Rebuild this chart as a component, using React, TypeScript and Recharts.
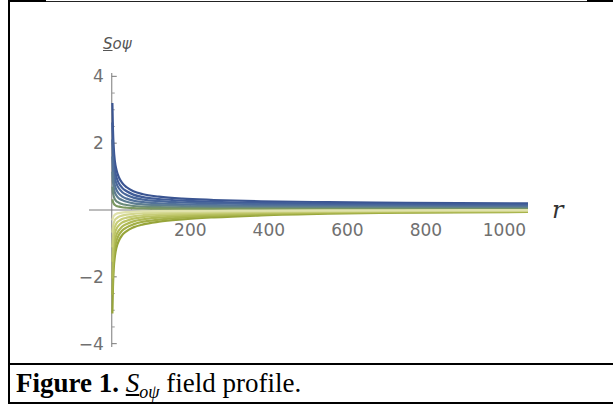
import React from 'react';
import { LineChart, Line, XAxis, YAxis, ReferenceLine, ReferenceDot } from 'recharts';

// radial coordinate r of the sampled points
const radius = [1.5, 3, 5, 8, 12, 18, 26, 38, 55, 80, 120, 180, 260, 380, 550, 750, 1060];

// positive branch, outermost curve first
const positiveCurves = [
  [3.2, 2.4, 1.85, 1.45, 1.2, 0.98, 0.82, 0.68, 0.56, 0.47, 0.4, 0.34, 0.3, 0.26, 0.235, 0.215, 0.2],
  [2.62, 1.97, 1.52, 1.19, 0.98, 0.8, 0.67, 0.56, 0.46, 0.385, 0.33, 0.28, 0.245, 0.215, 0.19, 0.175, 0.165],
  [2.11, 1.58, 1.22, 0.96, 0.79, 0.65, 0.54, 0.45, 0.37, 0.31, 0.265, 0.225, 0.2, 0.17, 0.155, 0.14, 0.13],
  [1.6, 1.2, 0.93, 0.73, 0.6, 0.49, 0.41, 0.34, 0.28, 0.235, 0.2, 0.17, 0.15, 0.13, 0.12, 0.11, 0.1],
  [1.15, 0.86, 0.67, 0.52, 0.43, 0.35, 0.3, 0.245, 0.2, 0.17, 0.145, 0.12, 0.11, 0.095, 0.085, 0.078, 0.072],
  [0.7, 0.53, 0.41, 0.32, 0.26, 0.22, 0.18, 0.15, 0.12, 0.1, 0.088, 0.075, 0.066, 0.057, 0.052, 0.047, 0.044],
  [0.32, 0.24, 0.19, 0.15, 0.12, 0.1, 0.082, 0.068, 0.056, 0.047, 0.04, 0.034, 0.03, 0.026, 0.024, 0.022, 0.02],
];

// negative branch, outermost curve first
const negativeCurves = [
  [-3.1, -2.3, -1.75, -1.38, -1.12, -0.92, -0.76, -0.63, -0.52, -0.43, -0.35, -0.28, -0.22, -0.16, -0.11, -0.08, -0.06],
  [-2.54, -1.89, -1.44, -1.13, -0.92, -0.75, -0.62, -0.52, -0.43, -0.35, -0.29, -0.23, -0.18, -0.13, -0.09, -0.066, -0.05],
  [-2.05, -1.52, -1.16, -0.91, -0.74, -0.61, -0.5, -0.42, -0.34, -0.28, -0.23, -0.185, -0.145, -0.105, -0.073, -0.053, -0.04],
  [-1.55, -1.15, -0.88, -0.69, -0.56, -0.46, -0.38, -0.32, -0.26, -0.215, -0.175, -0.14, -0.11, -0.08, -0.055, -0.04, -0.03],
  [-1.12, -0.83, -0.63, -0.5, -0.4, -0.33, -0.27, -0.23, -0.19, -0.155, -0.126, -0.1, -0.08, -0.058, -0.04, -0.029, -0.022],
  [-0.68, -0.51, -0.39, -0.3, -0.25, -0.2, -0.17, -0.14, -0.115, -0.095, -0.077, -0.062, -0.048, -0.035, -0.024, -0.018, -0.013],
  [-0.31, -0.23, -0.18, -0.14, -0.11, -0.092, -0.076, -0.063, -0.052, -0.043, -0.035, -0.028, -0.022, -0.016, -0.011, -0.008, -0.006],
];

const xMajorTicks = [200, 400, 600, 800, 1000];
const xMinorTicks = [50, 100, 150, 250, 300, 350, 450, 500, 550, 650, 700, 750, 850, 900, 950, 1050];
const yMajorTicks = [-4, -2, 2, 4];
const yMinorTicks = [-3.5, -3, -2.5, -1.5, -1, -0.5, 0.5, 1, 1.5, 2.5, 3, 3.5];
const xTickLabels = ['200', '400', '600', '800', '1000'];
const yTickLabels = ['\u22124', '\u22122', '2', '4'];

const positiveColors = ['#3b5592', '#405c98', '#48669a', '#52719a', '#5d7d92', '#6a8a7c', '#7a9760'];
const negativeColors = ['#97a53a', '#a3af46', '#afb954', '#bbc364', '#c7cd78', '#d3d790', '#e0e2ac'];

const tickFont = { fontFamily: 'DejaVu Sans', fontSize: 17, fill: '#707070' };

const App = () => {
  const data = radius.map((r, i) => {
    const row: Record<string, number> = { r };
    positiveCurves.forEach((c, k) => (row[`p${k}`] = c[i]));
    negativeCurves.forEach((c, k) => (row[`n${k}`] = c[i]));
    return row;
  });

  const hLine = (top: number, left: number, width: number, h: number, color = '#000') => (
    <div style={{ position: 'absolute', top, left, width, height: h, background: color }} />
  );

  return (
    <div style={{ position: 'absolute', left: 0, top: 0, width: 613, height: 405, background: '#fff', overflow: 'hidden' }}>
      {/* figure frame */}
      <div style={{ position: 'absolute', left: 8, top: 0, width: 2, height: 404, background: '#000' }} />
      {hLine(0, 8, 38, 2)}
      {hLine(1, 46, 541, 1, '#222')}
      {hLine(0, 587, 26, 2)}
      {hLine(363, 8, 605, 2)}
      {hLine(402, 8, 605, 2)}

      <div style={{ position: 'absolute', left: 0, top: 0 }}>
        <LineChart width={613} height={365} data={data} margin={{ top: 73, right: 85, bottom: 18, left: 89 }}>
          <XAxis type="number" dataKey="r" domain={[-58, 1060]} hide allowDataOverflow />
          <YAxis type="number" domain={[-4.1, 4.1]} hide allowDataOverflow />
          <ReferenceLine y={0} stroke="#7a7a7a" strokeWidth={1} />
          <ReferenceLine x={0} stroke="#7a7a7a" strokeWidth={1} />
          {xMajorTicks.map((t) => (
            <ReferenceLine key={`xM${t}`} segment={[{ x: t, y: 0 }, { x: t, y: 0.15 }]} stroke="#7a7a7a" />
          ))}
          {xMinorTicks.map((t) => (
            <ReferenceLine key={`xm${t}`} segment={[{ x: t, y: 0 }, { x: t, y: 0.09 }]} stroke="#9a9a9a" />
          ))}
          {yMajorTicks.map((t) => (
            <ReferenceLine key={`yM${t}`} segment={[{ x: 0, y: t }, { x: 12.7, y: t }]} stroke="#7a7a7a" />
          ))}
          {yMinorTicks.map((t) => (
            <ReferenceLine key={`ym${t}`} segment={[{ x: 0, y: t }, { x: 7.6, y: t }]} stroke="#9a9a9a" />
          ))}
          {positiveCurves.map((_, k) => (
            <Line
              key={`p${k}`}
              dataKey={`p${k}`}
              type="monotone"
              stroke={positiveColors[k]}
              strokeWidth={2.2}
              dot={false}
              isAnimationActive={false}
            />
          ))}
          {negativeCurves.map((_, k) => (
            <Line
              key={`n${k}`}
              dataKey={`n${k}`}
              type="monotone"
              stroke={negativeColors[k]}
              strokeWidth={2.2}
              dot={false}
              isAnimationActive={false}
            />
          ))}
          {xMajorTicks.map((t, i) => (
            <ReferenceDot
              key={`xl${t}`}
              x={t}
              y={0}
              r={0}
              shape={(p: any) => (
                <text x={p.cx} y={p.cy + 20} textAnchor="middle" dominantBaseline="central" {...tickFont}>
                  {xTickLabels[i]}
                </text>
              )}
            />
          ))}
          {yMajorTicks.map((t, i) => (
            <ReferenceDot
              key={`yl${t}`}
              x={0}
              y={t}
              r={0}
              shape={(p: any) => (
                <text x={p.cx - 8} y={p.cy} textAnchor="end" dominantBaseline="central" {...tickFont}>
                  {yTickLabels[i]}
                </text>
              )}
            />
          ))}
        </LineChart>
      </div>

      {/* axis labels */}
      <div style={{ position: 'absolute', left: 103, top: 35, fontFamily: 'DejaVu Sans', fontStyle: 'italic', fontSize: 15, color: '#555' }}>
        <span style={{ textDecoration: 'underline' }}>S</span>oψ
      </div>
      <div style={{ position: 'absolute', left: 552, top: 196, fontFamily: 'DejaVu Serif', fontStyle: 'italic', fontSize: 24, color: '#333' }}>
        r
      </div>

      {/* caption */}
      <div style={{ position: 'absolute', left: 16, top: 365, fontFamily: 'Liberation Serif', fontSize: 27, lineHeight: '36px', color: '#000', whiteSpace: 'nowrap' }}>
        <b>Figure 1.</b>{' '}
        <i style={{ textDecoration: 'underline' }}>S</i>
        <sub style={{ fontSize: 18, fontStyle: 'italic', lineHeight: 0 }}>oψ</sub> field profile.
      </div>
    </div>
  );
};

export default App;
